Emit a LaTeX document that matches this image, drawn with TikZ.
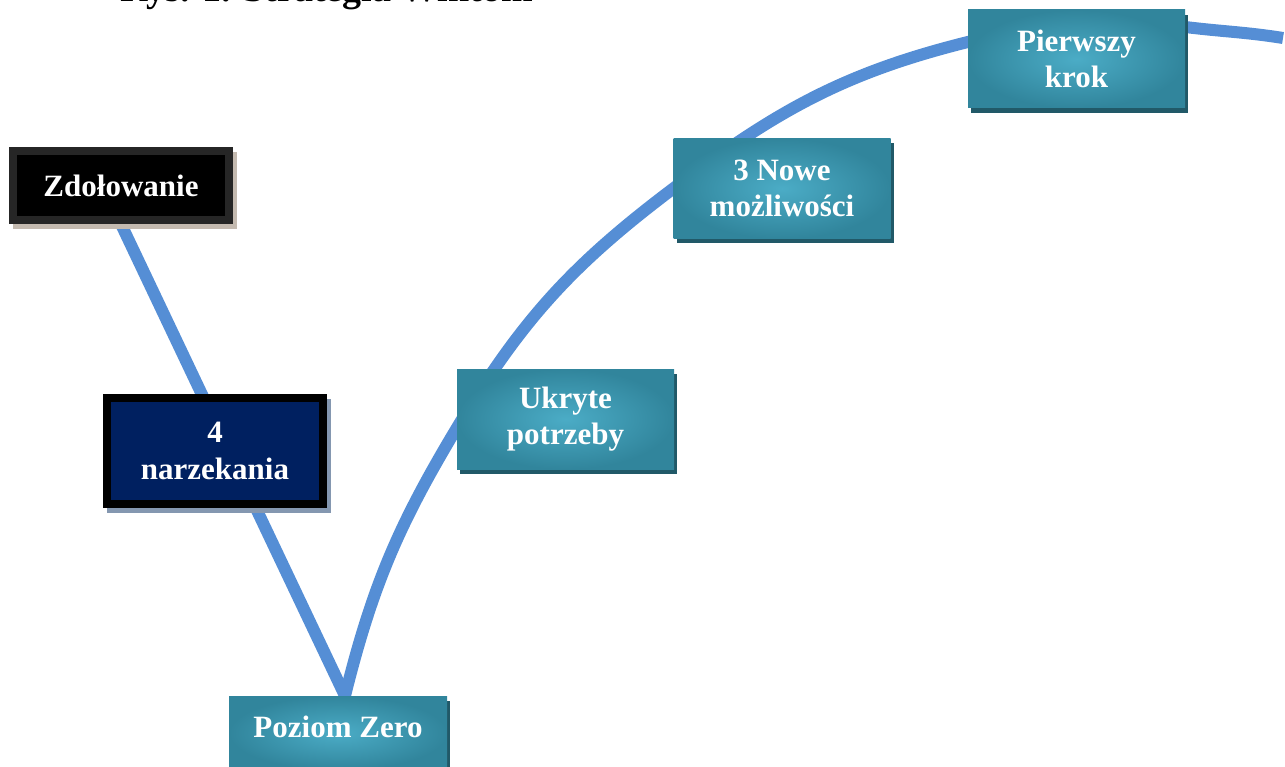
\documentclass[tikz,border=0pt]{standalone}
\usepackage{fontspec}
\setmainfont{Liberation Serif}
\usetikzlibrary{shadows,backgrounds,calc}
\definecolor{lineblue}{HTML}{558ED5}
\definecolor{tealin}{HTML}{4BACC6}
\definecolor{tealout}{HTML}{31859C}
\definecolor{tealshadow}{HTML}{215968}
\definecolor{navyfill}{HTML}{002060}
\definecolor{zdborder}{HTML}{262626}
\definecolor{zdshadow}{HTML}{C4BAB0}
\definecolor{nzshadow}{HTML}{8497B0}
\begin{document}
\begin{tikzpicture}[x=1pt,y=1pt,
  boxtext/.style={font=\fontsize{31}{36.5}\selectfont\bfseries, text=white, inner sep=0pt},
  tealbox/.style={boxtext, rectangle, minimum width=217pt, minimum height=100pt,
    shading=radial, inner color=tealin, outer color=tealout,
    general shadow={shadow xshift=3pt, shadow yshift=-5pt, fill=tealshadow}},
  darkbox/.style={boxtext, rectangle, align=center, line width=8pt, minimum width=216pt},
  conn/.style={draw=lineblue, line width=12pt}
]
\useasboundingbox (0,0) rectangle (1285,-767);

\node[anchor=base west, font=\fontsize{38}{44}\selectfont\bfseries, inner sep=0pt] (title) at (120,-2) {Rys. 1. Strategia Wintom};

\node[darkbox, draw=zdborder, fill=black, minimum height=69pt,
  general shadow={shadow xshift=4pt, shadow yshift=-5pt, fill=zdshadow, draw=zdshadow, line width=8pt}]
  (zd) at (121,-185.5) {Zdołowanie};
\node[darkbox, draw=black, fill=navyfill, minimum height=106pt,
  general shadow={shadow xshift=4pt, shadow yshift=-5pt, fill=nzshadow, draw=nzshadow, line width=8pt}]
  (nz) at (215,-451) {4\\narzekania};

\node[tealbox, minimum width=218pt, minimum height=74pt, text height=22pt, text depth=14pt] (pz) at (338,-733) {Poziom Zero};
\node[tealbox, align=center] (uk) at (565.5,-419) {Ukryte\\potrzeby};
\node[tealbox, align=center] (nw) at (782,-188.5) {3 Nowe\\możliwości};
\node[tealbox, align=center, minimum height=98pt] (pk) at (1076.5,-59) {Pierwszy\\krok};
\coordinate (end) at (1283,-38);

\begin{scope}[on background layer]
\draw[conn] (zd.south) -- ([xshift=7pt]pz.north);
\draw[conn] ([xshift=7pt]pz.north) to[out=76,in=239] ([yshift=-9pt]uk.west)
  to[out=59,in=217] (nw.west)
  to[out=37,in=194] ([yshift=17pt]pk.west)
  to[out=14,in=173] ([yshift=32pt]pk.east)
  to[out=-7,in=171] (end);
\end{scope}
\end{tikzpicture}
\end{document}
